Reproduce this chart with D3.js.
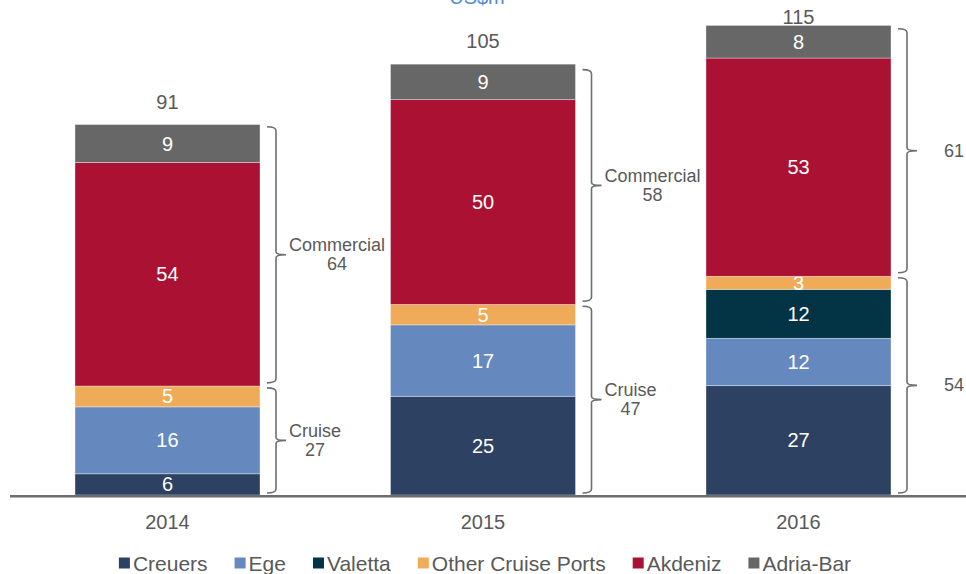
<!DOCTYPE html>
<html>
<head>
<meta charset="utf-8">
<script src="https://cdn.jsdelivr.net/npm/d3@7"></script>
<style>
  body { margin: 0; background: #fff; }
  svg { display: block; font-family: "Liberation Sans", Arial, sans-serif; }
</style>
</head>
<body>
<svg id="chart" width="966" height="574"></svg>
<script>
// values (US$m)
var years = ["2014", "2015", "2016"];
var seriesNames = ["Creuers", "Ege", "Valetta", "Other Cruise Ports", "Akdeniz", "Adria-Bar"];
var seriesColors = ["#2d4162", "#6589bf", "#023446", "#efab57", "#aa1133", "#676767"];

var creuers = [5.2, 24.2, 26.8];
var ege = [16.4, 17.5, 11.6];
var valetta = [0, 0, 12.0];
var otherCruise = [5.1, 5.0, 3.2];
var akdeniz = [54.8, 50.2, 53.5];
var adriaBar = [9.3, 8.7, 8.0];

// printed labels (as shown on the chart)
var creuersLabels = ["6", "25", "27"];
var egeLabels = ["16", "17", "12"];
var valettaLabels = ["", "", "12"];
var otherLabels = ["5", "5", "3"];
var akdenizLabels = ["54", "50", "53"];
var adriaLabels = ["9", "9", "8"];

var totals = [91, 105, 115];
var cruiseTotals = [27, 47, 54];
var commercialTotals = [64, 58, 61];
var showGroupNames = [true, true, false];

(function () {
  'use strict';

  var svg = d3.select("#chart");
  var baseY = 495;
  var textGray = "#595959";

  var cols = [creuers, ege, valetta, otherCruise, akdeniz, adriaBar];
  var labs = [creuersLabels, egeLabels, valettaLabels, otherLabels, akdenizLabels, adriaLabels];

  var rows = years.map(function (yr, i) {
    var r = { year: yr };
    seriesNames.forEach(function (s, j) { r[s] = cols[j][i]; });
    return r;
  });

  var x = d3.scaleBand()
    .domain(years)
    .range([10, 956])
    .paddingInner(0.4136)
    .paddingOuter(0.206);

  var y = d3.scaleLinear()
    .domain([0, 115])
    .range([baseY, baseY - 115 * 4.08]);

  var stack = d3.stack().keys(seriesNames)(rows);

  // title (mostly cut off at the top)
  svg.append("text")
    .attr("x", 477)
    .attr("y", 4)
    .attr("text-anchor", "middle")
    .style("font-size", "20px")
    .style("fill", "#4f8ad6")
    .text("US$m");

  // bars
  var layer = svg.selectAll(".layer").data(stack).enter().append("g")
    .attr("class", "layer")
    .attr("fill", function (d, i) { return seriesColors[i]; });

  layer.selectAll("rect").data(function (d) { return d; }).enter().append("rect")
    .attr("x", function (d) { return x(d.data.year); })
    .attr("y", function (d) { return y(d[1]); })
    .attr("width", x.bandwidth())
    .attr("height", function (d) { return y(d[0]) - y(d[1]); })
    .attr("stroke", "rgba(255,255,255,0.45)")
    .attr("stroke-width", 0.8);

  // segment labels
  layer.selectAll("text").data(function (d, j) {
      return d.map(function (p, i) { return { p: p, lab: labs[j][i] }; });
    })
    .enter().append("text")
    .filter(function (d) { return d.lab !== ""; })
    .attr("x", function (d) { return x(d.p.data.year) + x.bandwidth() / 2; })
    .attr("y", function (d) { return (y(d.p[0]) + y(d.p[1])) / 2; })
    .attr("text-anchor", "middle")
    .attr("dominant-baseline", "central")
    .style("font-size", "20px")
    .style("fill", "#fff")
    .text(function (d) { return d.lab; });

  // totals above bars (kept inside the top edge)
  svg.selectAll(".total").data(years).enter().append("text")
    .attr("class", "total")
    .attr("x", function (d) { return x(d) + x.bandwidth() / 2; })
    .attr("y", function (d, i) {
      var top = d3.sum(cols, function (c) { return c[i]; });
      return Math.max(y(top) - 23, 17);
    })
    .attr("text-anchor", "middle")
    .attr("dominant-baseline", "central")
    .style("font-size", "20px")
    .style("fill", textGray)
    .text(function (d, i) { return totals[i]; });

  // axis line + year labels
  svg.append("line")
    .attr("x1", 10).attr("x2", 966)
    .attr("y1", baseY + 1.2).attr("y2", baseY + 1.2)
    .attr("stroke", "#6e6e6e")
    .attr("stroke-width", 2.6);

  svg.selectAll(".year").data(years).enter().append("text")
    .attr("class", "year")
    .attr("x", function (d) { return x(d) + x.bandwidth() / 2; })
    .attr("y", 522)
    .attr("text-anchor", "middle")
    .attr("dominant-baseline", "central")
    .style("font-size", "20px")
    .style("fill", textGray)
    .text(function (d) { return d; });

  // braces
  function brace(x0, xv, xt, top, bot) {
    var m = (top + bot) / 2;
    return "M" + x0 + "," + top
      + "Q" + xv + "," + top + " " + xv + "," + (top + 4)
      + "V" + (m - 3)
      + "Q" + xv + "," + m + " " + xt + "," + m
      + "Q" + xv + "," + m + " " + xv + "," + (m + 3)
      + "V" + (bot - 4)
      + "Q" + xv + "," + bot + " " + x0 + "," + bot;
  }

  var groups = [];
  years.forEach(function (yr, i) {
    groups.push({ i: i, name: "Cruise", value: cruiseTotals[i], lo: 0, hi: cruiseTotals[i] });
    groups.push({ i: i, name: "Commercial", value: commercialTotals[i],
      lo: cruiseTotals[i], hi: cruiseTotals[i] + commercialTotals[i] });
  });

  var gb = svg.selectAll(".brace").data(groups).enter().append("g")
    .attr("class", "brace");

  gb.each(function (d) {
    var g = d3.select(this);
    var right = x(years[d.i]) + x.bandwidth();
    var top = y(d.hi) + 3;
    var bot = y(d.lo) - 2;
    var mid = (top + bot) / 2;
    var xt = right + 26;

    g.append("path")
      .attr("d", brace(right + 7, right + 16, xt, top, bot))
      .attr("fill", "none")
      .attr("stroke", "#6e6e6e")
      .attr("stroke-width", 1.6);

    if (showGroupNames[d.i]) {
      var nameText = g.append("text")
        .attr("x", xt + 3)
        .attr("y", mid - 9.5)
        .attr("dominant-baseline", "central")
        .style("font-size", "18px")
        .style("fill", textGray)
        .text(d.name);
      var w = nameText.node().getComputedTextLength();
      g.append("text")
        .attr("x", xt + 3 + w / 2)
        .attr("y", mid + 9.5)
        .attr("text-anchor", "middle")
        .attr("dominant-baseline", "central")
        .style("font-size", "18px")
        .style("fill", textGray)
        .text(d.value);
    } else {
      g.append("text")
        .attr("x", xt + 27)
        .attr("y", mid)
        .attr("dominant-baseline", "central")
        .style("font-size", "18px")
        .style("fill", textGray)
        .text(d.value);
    }
  });

  // legend
  var legend = svg.append("g").attr("class", "legend");
  var gap = 27;
  var lx = 0;
  seriesNames.forEach(function (s, i) {
    var item = legend.append("g").attr("transform", "translate(" + lx + ",0)");
    item.append("rect")
      .attr("x", 0).attr("y", -5.5)
      .attr("width", 11).attr("height", 11)
      .attr("fill", seriesColors[i]);
    var t = item.append("text")
      .attr("x", 14)
      .attr("y", 0)
      .attr("dominant-baseline", "central")
      .style("font-size", "21px")
      .style("fill", textGray)
      .text(s);
    lx += 14 + t.node().getComputedTextLength() + gap;
  });
  var legendW = lx - gap;
  legend.attr("transform", "translate(" + (485 - legendW / 2) + ",563)");
})();
</script>
</body>
</html>
